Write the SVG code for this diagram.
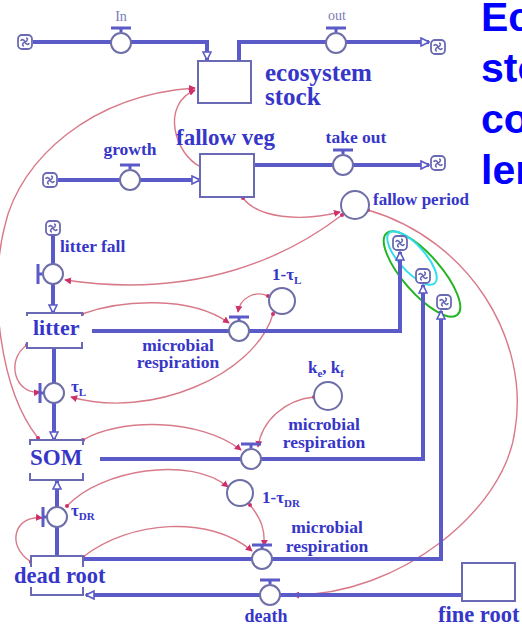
<svg xmlns="http://www.w3.org/2000/svg" width="522" height="626" viewBox="0 0 522 626">
<style>
.flow{fill:none;stroke:#5a5ac8;stroke-width:4}
.stock{fill:#fff;stroke:#6a6ab4;stroke-width:2}
.valve{fill:#fff;stroke:#6e6ea8;stroke-width:2}
.bar{fill:none;stroke:#5a5ac8;stroke-width:3}
.conn{fill:none;stroke:#d87a8a;stroke-width:1.4;marker-end:url(#ah);marker-start:url(#dot)}
.lbl{font-family:"Liberation Serif","Times New Roman",serif;font-weight:bold;fill:#3636c8}
.thin{font-family:"Liberation Serif","Times New Roman",serif;fill:#7a7ab8}
.big{font-family:"Liberation Sans",Arial,sans-serif;font-weight:bold;fill:#0000ff;font-size:41px}
.wbg{fill:#fff}
</style>
<defs>
<marker id="fa" viewBox="0 0 10 10" refX="9" refY="5" markerWidth="10" markerHeight="10" markerUnits="userSpaceOnUse" orient="auto">
<path d="M1,1 L9,5 L1,9 Z" fill="#fff" stroke="#5a5ac8" stroke-width="1.6"/>
</marker>
<marker id="ah" viewBox="0 0 8 8" refX="7" refY="4" markerWidth="7" markerHeight="7" markerUnits="userSpaceOnUse" orient="auto">
<path d="M0,0 L8,4 L0,8 Z" fill="#d0306a"/>
</marker>
<marker id="dot" viewBox="0 0 6 6" refX="3" refY="3" markerWidth="4" markerHeight="4" markerUnits="userSpaceOnUse">
<circle cx="3" cy="3" r="3" fill="#d0306a"/>
</marker>
<symbol id="cloud" viewBox="-9 -9 18 18" overflow="visible">
<rect x="-7" y="-7" width="14" height="14" rx="4" fill="#fff" stroke="#6a6ab4" stroke-width="1.8"/>
<path d="M0,0 C-1,-3 -4,-3 -4,-1 M0,0 C3,-1 3,-4 1,-4 M0,0 C1,3 4,3 4,1 M0,0 C-3,1 -3,4 -1,4" fill="none" stroke="#6a6ab4" stroke-width="1.6"/>
</symbol>
</defs>
<rect width="522" height="626" fill="#fff"/>

<g id="title">
<text class="big" x="481" y="31">Ec</text>
<text class="big" x="481" y="82">sto</text>
<text class="big" x="481" y="133">co</text>
<text class="big" x="481" y="184">ler</text>
</g>

<g id="highlight">
<ellipse cx="422" cy="274" rx="54" ry="19" transform="rotate(49 422 274)" fill="none" stroke="#22b422" stroke-width="2"/>
<ellipse cx="412" cy="258" rx="34" ry="13" transform="rotate(48 412 258)" fill="none" stroke="#33ddee" stroke-width="2"/>
</g>

<g id="connectors">
<path class="conn" d="M38,438 C0,390 -12,290 5,225 C20,160 90,95 195,88"/>
<path class="conn" d="M201,167 C175,155 160,105 195,90"/>
<path class="conn" d="M243,198 C258,218 300,222 340,212"/>
<path class="conn" d="M342,215 C290,255 200,300 65,280"/>
<path class="conn" d="M368,210 C470,240 530,340 515,430 C505,510 400,595 293,595"/>
<path class="conn" d="M82,314 C120,300 190,295 229,323"/>
<path class="conn" d="M268,296 C255,290 240,298 238,312"/>
<path class="conn" d="M273,314 C255,375 150,420 71,397"/>
<path class="conn" d="M27,345 C5,360 15,395 40,392"/>
<path class="conn" d="M83,440 C120,418 200,418 241,450"/>
<path class="conn" d="M314,397 C285,400 262,420 258,447"/>
<path class="conn" d="M67,506 C100,470 190,455 228,487"/>
<path class="conn" d="M250,505 C262,520 265,530 264,546"/>
<path class="conn" d="M83,557 C130,520 210,515 252,551"/>
<path class="conn" d="M31,562 C5,545 15,515 42,518"/>
</g>

<g id="flows">
<path class="flow" d="M33,42 H207 V60" marker-end="url(#fa)"/>
<path class="flow" d="M239,61 V42 H429" marker-end="url(#fa)"/>
<path class="flow" d="M58,180 H200" marker-end="url(#fa)"/>
<path class="flow" d="M254,165 H429" marker-end="url(#fa)"/>
<path class="flow" d="M53,236 V313" marker-end="url(#fa)"/>
<path class="flow" d="M82,331 H400 V252" marker-end="url(#fa)"/>
<path class="flow" d="M54,348 V440" marker-end="url(#fa)"/>
<path class="flow" d="M83,459 H423 V285" marker-end="url(#fa)"/>
<path class="flow" d="M57,556 V481" marker-end="url(#fa)"/>
<path class="flow" d="M83,559 H441 V311" marker-end="url(#fa)"/>
<path class="flow" d="M462,595 H86" marker-end="url(#fa)"/>
</g>

<g id="clouds">
<use href="#cloud" x="16" y="33" width="18" height="18"/>
<use href="#cloud" x="429" y="38" width="18" height="18"/>
<use href="#cloud" x="41" y="171" width="18" height="18"/>
<use href="#cloud" x="429" y="154" width="18" height="18"/>
<use href="#cloud" x="44" y="219" width="18" height="18"/>
<use href="#cloud" x="391" y="234" width="18" height="18"/>
<use href="#cloud" x="414" y="267" width="18" height="18"/>
<use href="#cloud" x="435" y="293" width="18" height="18"/>
</g>

<g id="ecosystem-stock">
<rect class="stock" x="198" y="61" width="53" height="42"/>
<text class="lbl" x="265" y="81" font-size="25">ecosystem</text>
<text class="lbl" x="265" y="105" font-size="25">stock</text>
</g>

<g id="fallow-veg">
<rect class="stock" x="200" y="154" width="54" height="43"/>
<text class="lbl" x="176" y="145" font-size="23">fallow veg</text>
</g>

<g id="litter">
<rect class="stock" x="27" y="313" width="55" height="35"/>
<rect class="wbg" x="25" y="316" width="67" height="26"/>
<text class="lbl" x="33" y="335" font-size="22">litter</text>
</g>

<g id="SOM">
<rect class="stock" x="30" y="440" width="53" height="40"/>
<rect class="wbg" x="25" y="445" width="75" height="28"/>
<text class="lbl" x="30" y="465" font-size="23">SOM</text>
</g>

<g id="dead-root">
<rect class="stock" x="31" y="556" width="52" height="39"/>
<rect class="wbg" x="10" y="567" width="100" height="20"/>
<text class="lbl" x="14" y="583" font-size="22.5">dead root</text>
</g>

<g id="fine-root">
<rect class="stock" x="462" y="563" width="53" height="38"/>
<text class="lbl" x="438" y="622" font-size="22.5">fine root</text>
</g>

<g id="in">
<path class="bar" d="M111,28 H131 M121,28 V32"/>
<circle class="valve" cx="121" cy="43" r="10"/>
<text class="thin" x="121" y="21" font-size="14" text-anchor="middle">In</text>
</g>

<g id="out">
<path class="bar" d="M326,28 H346 M336,28 V32"/>
<circle class="valve" cx="336" cy="43" r="10"/>
<text class="thin" x="337" y="20" font-size="14" text-anchor="middle">out</text>
</g>

<g id="growth">
<path class="bar" d="M120,165 H140 M130,165 V169"/>
<circle class="valve" cx="130" cy="180" r="10"/>
<text class="lbl" x="130" y="155" font-size="17.5" text-anchor="middle">growth</text>
</g>

<g id="take-out">
<path class="bar" d="M333,150 H353 M343,150 V154"/>
<circle class="valve" cx="343" cy="165" r="10"/>
<text class="lbl" x="356" y="143" font-size="17.5" text-anchor="middle">take out</text>
</g>

<g id="fallow-period">
<circle class="valve" cx="355" cy="205" r="14"/>
<text class="lbl" x="373" y="205" font-size="17">fallow period</text>
</g>

<g id="litter-fall">
<path class="bar" d="M38,264 V284 M38,274 H42"/>
<circle class="valve" cx="53" cy="274" r="10"/>
<text class="lbl" x="60" y="252" font-size="17.5">litter fall</text>
</g>

<g id="litter-respiration">
<path class="bar" d="M229,317 H249 M239,317 V321"/>
<circle class="valve" cx="239" cy="331" r="10"/>
<text class="lbl" x="178" y="351" font-size="17.5" text-anchor="middle">microbial</text>
<text class="lbl" x="178" y="368" font-size="17.5" text-anchor="middle">respiration</text>
</g>

<g id="one-minus-tauL">
<circle class="valve" cx="282" cy="301" r="13"/>
<text class="lbl" x="272" y="280" font-size="17">1-τ<tspan font-size="11" dy="4">L</tspan></text>
</g>

<g id="tauL">
<path class="bar" d="M40,383 V403 M40,393 H44"/>
<circle class="valve" cx="54" cy="393" r="10"/>
<text class="lbl" x="71" y="392" font-size="17">τ<tspan font-size="11" dy="4">L</tspan></text>
</g>

<g id="ke-kf">
<circle class="valve" cx="328" cy="396" r="14"/>
<text class="lbl" x="308" y="373" font-size="17">k<tspan font-size="11" dy="4">e</tspan><tspan dy="-4">, k</tspan><tspan font-size="11" dy="4">f</tspan></text>
</g>

<g id="SOM-respiration">
<path class="bar" d="M241,444 H261 M251,444 V448"/>
<circle class="valve" cx="251" cy="459" r="10"/>
<text class="lbl" x="324" y="430" font-size="17.5" text-anchor="middle">microbial</text>
<text class="lbl" x="324" y="448" font-size="17.5" text-anchor="middle">respiration</text>
</g>

<g id="tauDR">
<path class="bar" d="M43,507 V527 M43,517 H47"/>
<circle class="valve" cx="57" cy="517" r="10"/>
<text class="lbl" x="71" y="516" font-size="17">τ<tspan font-size="11" dy="4">DR</tspan></text>
</g>

<g id="one-minus-tauDR">
<circle class="valve" cx="240" cy="493" r="13"/>
<text class="lbl" x="262" y="503" font-size="17">1-τ<tspan font-size="11" dy="4">DR</tspan></text>
</g>

<g id="DR-respiration">
<path class="bar" d="M252,545 H272 M262,545 V549"/>
<circle class="valve" cx="262" cy="559" r="10"/>
<text class="lbl" x="327" y="533" font-size="17.5" text-anchor="middle">microbial</text>
<text class="lbl" x="327" y="552" font-size="17.5" text-anchor="middle">respiration</text>
</g>

<g id="death">
<path class="bar" d="M260,580 H280 M270,580 V584"/>
<circle class="valve" cx="270" cy="595" r="10"/>
<text class="lbl" x="266" y="622" font-size="18" text-anchor="middle">death</text>
</g>
</svg>
